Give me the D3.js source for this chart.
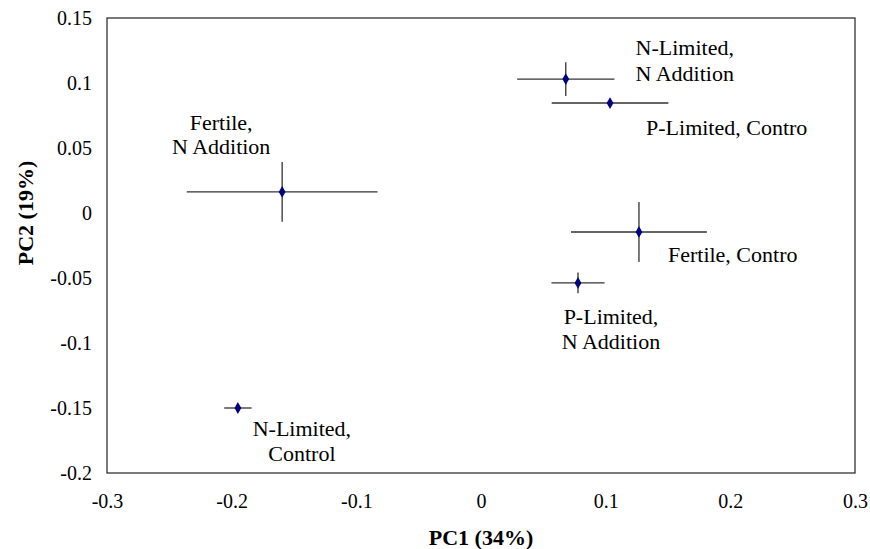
<!DOCTYPE html>
<html>
<head>
<meta charset="utf-8">
<script src="https://cdn.jsdelivr.net/npm/d3@7"></script>
<style>
  body { margin: 0; background: #fff; }
  text { font-family: "Liberation Serif", "Times New Roman", serif; }
</style>
</head>
<body>
<svg id="chart" width="870" height="549"></svg>
<script>
// treatment groups, PCA scores and their error bars
var groups = [
    ["N-Limited,", "N Addition"],
    ["P-Limited, Control"],
    ["Fertile,", "N Addition"],
    ["Fertile, Control"],
    ["P-Limited,", "N Addition"],
    ["N-Limited,", "Control"]
];
var pc1 = [0.068, 0.1035, -0.1595, 0.1267, 0.0778, -0.195];
var pc2 = [0.103, 0.0846, 0.0162, -0.0146, -0.0538, -0.15];
var pc1Err = [0.039, 0.0468, 0.0765, 0.0545, 0.0213, 0.011];
var pc2Err = [0.013, 0, 0.023, 0.023, 0.008, 0];
var xTicks = [-0.3, -0.2, -0.1, 0, 0.1, 0.2, 0.3];
var yTicks = [0.15, 0.1, 0.05, 0, -0.05, -0.1, -0.15, -0.2];

// where each label sits relative to its point (px)
var labelLayout = [
    {dx: 119, dy: [-32, -6], anchor: "middle", clip: null},
    {dx: 36, dy: [24], anchor: "start", clip: 808},
    {dx: -61, dy: [-69, -45], anchor: "middle", clip: 273},
    {dx: 29, dy: [23], anchor: "start", clip: 797},
    {dx: 33, dy: [34, 59], anchor: "middle", clip: null},
    {dx: 64, dy: [20, 45], anchor: "middle", clip: null}
];

var svg = d3.select("#chart");
var plotL = 107, plotR = 855, plotT = 18, plotB = 473;

var x = d3.scaleLinear().domain([-0.3, 0.3]).range([plotL, plotR]);
var y = d3.scaleLinear().domain([-0.2, 0.15]).range([plotB, plotT]);

var xAxis = svg.append("g")
    .attr("transform", "translate(0," + plotB + ")")
    .call(d3.axisBottom(x).tickValues(xTicks).tickSize(0).tickPadding(21)
        .tickFormat(function (d) { return d === 0 ? "0" : String(d); }));
xAxis.select(".domain").remove();
xAxis.selectAll("text").style("font-size", "20px").style("font-family", "Liberation Serif").attr("fill", "#000");

var yAxis = svg.append("g")
    .attr("transform", "translate(" + plotL + ",0)")
    .call(d3.axisLeft(y).tickValues(yTicks).tickSize(0).tickPadding(15)
        .tickFormat(function (d) { return d === 0 ? "0" : String(d); }));
yAxis.select(".domain").remove();
yAxis.selectAll("text").style("font-size", "20px").style("font-family", "Liberation Serif").attr("fill", "#000");

svg.append("rect")
    .attr("x", plotL).attr("y", plotT)
    .attr("width", plotR - plotL).attr("height", plotB - plotT)
    .attr("fill", "none").attr("stroke", "#333").attr("stroke-width", 1.3);

var defs = svg.append("defs");

for (var i = 0; i < groups.length; i++) {
    var cx = x(pc1[i]), cy = y(pc2[i]);

    svg.append("line")
        .attr("x1", x(pc1[i] - pc1Err[i])).attr("x2", x(pc1[i] + pc1Err[i]))
        .attr("y1", cy).attr("y2", cy)
        .attr("stroke", "#333").attr("stroke-width", 1.3);

    if (pc2Err[i] > 0) {
        svg.append("line")
            .attr("x1", cx).attr("x2", cx)
            .attr("y1", y(pc2[i] + pc2Err[i])).attr("y2", y(pc2[i] - pc2Err[i]))
            .attr("stroke", "#333").attr("stroke-width", 1.3);
    }

    svg.append("path")
        .attr("d", d3.symbol().type(d3.symbolDiamond).size(40)())
        .attr("transform", "translate(" + cx + "," + cy + ")")
        .attr("fill", "#000080");

    var lay = labelLayout[i];
    var g = svg.append("g");
    if (lay.clip) {
        defs.append("clipPath").attr("id", "clip" + i)
            .append("rect").attr("x", 0).attr("y", 0).attr("width", lay.clip).attr("height", 549);
        g.attr("clip-path", "url(#clip" + i + ")");
    }
    for (var j = 0; j < groups[i].length; j++) {
        g.append("text")
            .attr("x", cx + lay.dx)
            .attr("y", cy + lay.dy[j])
            .attr("dominant-baseline", "central")
            .attr("text-anchor", lay.anchor)
            .style("font-size", "22px")
            .text(groups[i][j]);
    }
}

svg.append("text")
    .attr("x", (plotL + plotR) / 2).attr("y", 537)
    .attr("text-anchor", "middle").attr("dominant-baseline", "central")
    .style("font-size", "22px").style("font-weight", "bold")
    .text("PC1 (34%)");

svg.append("text")
    .attr("transform", "translate(25," + y(0) + ") rotate(-90)")
    .attr("text-anchor", "middle").attr("dominant-baseline", "central")
    .style("font-size", "22px").style("font-weight", "bold")
    .text("PC2 (19%)");
</script>
</body>
</html>
